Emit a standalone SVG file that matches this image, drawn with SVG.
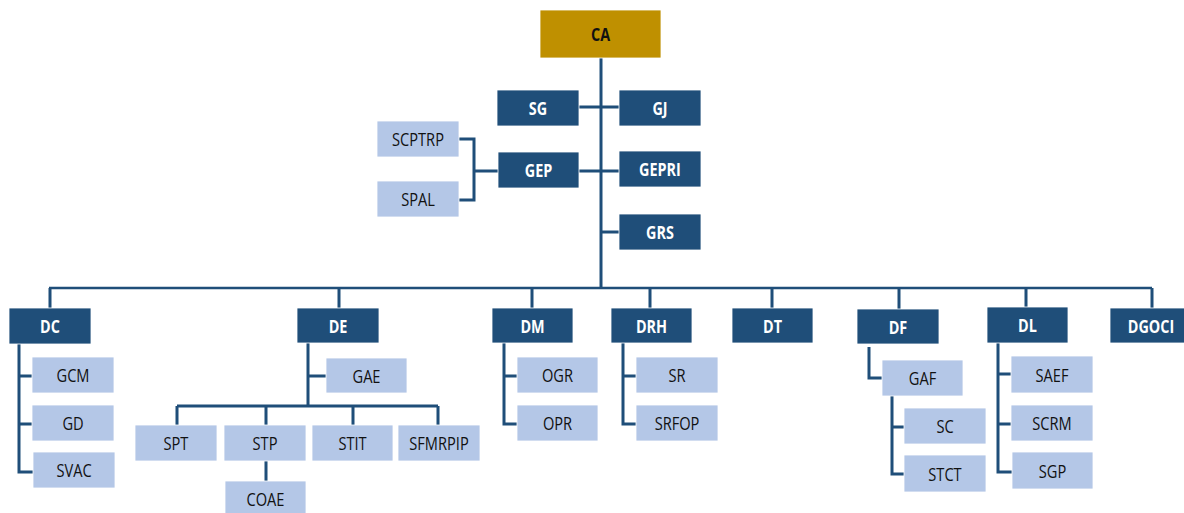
<svg xmlns="http://www.w3.org/2000/svg" width="1184" height="513" viewBox="0 0 1184 513">
<style>
.bg{fill:#ffffff}
.d rect{fill:#1F4E79;stroke:#ffffff;stroke-width:0.8}
.l rect{fill:#B4C7E7;stroke:#ffffff;stroke-width:0.8}
.g rect{fill:#BF9000;stroke:#ffffff;stroke-width:0.8}
.d text{fill:#ffffff;font-family:"Open Sans","Liberation Sans",sans-serif;font-weight:bold;font-size:18px;text-anchor:middle}
.g text{fill:#111111;font-family:"Open Sans","Liberation Sans",sans-serif;font-weight:bold;font-size:18px;text-anchor:middle}
.l text{fill:#111111;font-family:"Open Sans","Liberation Sans",sans-serif;font-size:19px;text-anchor:middle}
#connectors path{fill:none;stroke:#1F4E79;stroke-width:3}
</style>
<rect class="bg" x="0" y="0" width="1184" height="513"/>
<g id="connectors">
<path d="M601,58 V288"/>
<path d="M579,107 H619"/>
<path d="M579,171 H619"/>
<path d="M601,232 H619"/>
<path d="M459,139 H474 V200 H459 M474,171 H498"/>
<path d="M49,288 H1152" style="stroke-width:2.5"/>
<path d="M50,288 V308 M339,288 V308 M532,288 V308 M650,288 V308 M772,288 V308 M899,288 V309 M1026,288 V307 M1152,288 V308"/>
<path d="M19,344 V472 H33 M19,376 H32 M19,424 H32"/>
<path d="M308,343 V406 M308,376 H326 M177,406 H438 M177,406 V425 M266,406 V425 M353,406 V425 M438,406 V425 M266,461 V481"/>
<path d="M504,343 V424 H517 M504,376 H517"/>
<path d="M623,343 V424 H636 M623,376 H636"/>
<path d="M869,347 V378 H882"/>
<path d="M892,396 V474 H904 M892,427 H904"/>
<path d="M998,343 V472 H1012 M998,374 H1011 M998,424 H1011"/>
</g>
<g id="CA" class="g"><rect x="540" y="10" width="121" height="48"/><text transform="translate(600.5,40.5) scale(0.8,1)">CA</text></g>
<g id="SG" class="d"><rect x="497" y="90" width="82" height="36"/><text transform="translate(538,114.5) scale(0.8,1)">SG</text></g>
<g id="GJ" class="d"><rect x="619" y="90" width="82" height="36"/><text transform="translate(660,114.5) scale(0.8,1)">GJ</text></g>
<g id="SCPTRP" class="l"><rect x="377" y="121" width="82" height="36"/><text transform="translate(418,146) scale(0.77,1)">SCPTRP</text></g>
<g id="SPAL" class="l"><rect x="377" y="181" width="82" height="36"/><text transform="translate(418,206) scale(0.77,1)">SPAL</text></g>
<g id="GEP" class="d"><rect x="498" y="152" width="81" height="36"/><text transform="translate(538.5,176.5) scale(0.8,1)">GEP</text></g>
<g id="GEPRI" class="d"><rect x="619" y="151" width="82" height="36"/><text transform="translate(660,175.5) scale(0.8,1)">GEPRI</text></g>
<g id="GRS" class="d"><rect x="619" y="214" width="82" height="36"/><text transform="translate(660,238.5) scale(0.8,1)">GRS</text></g>
<g id="DC" class="d"><rect x="9" y="308" width="82" height="36"/><text transform="translate(50,333) scale(0.8,1)">DC</text></g>
<g id="GCM" class="l"><rect x="32" y="357" width="82" height="36"/><text transform="translate(73,382) scale(0.77,1)">GCM</text></g>
<g id="GD" class="l"><rect x="32" y="405" width="82" height="36"/><text transform="translate(73,430) scale(0.77,1)">GD</text></g>
<g id="SVAC" class="l"><rect x="33" y="452" width="82" height="36"/><text transform="translate(74,477) scale(0.77,1)">SVAC</text></g>
<g id="DE" class="d"><rect x="297" y="308" width="82" height="35"/><text transform="translate(338,332.5) scale(0.8,1)">DE</text></g>
<g id="GAE" class="l"><rect x="326" y="358" width="81" height="35"/><text transform="translate(366.5,382.5) scale(0.77,1)">GAE</text></g>
<g id="SPT" class="l"><rect x="135" y="425" width="82" height="36"/><text transform="translate(176,450) scale(0.77,1)">SPT</text></g>
<g id="STP" class="l"><rect x="224" y="425" width="82" height="36"/><text transform="translate(265,450) scale(0.77,1)">STP</text></g>
<g id="STIT" class="l"><rect x="312" y="425" width="81" height="36"/><text transform="translate(352.5,450) scale(0.77,1)">STIT</text></g>
<g id="SFMRPIP" class="l"><rect x="398" y="425" width="82" height="36"/><text transform="translate(439,450) scale(0.77,1)">SFMRPIP</text></g>
<g id="COAE" class="l"><rect x="225" y="481" width="81" height="36"/><text transform="translate(265.5,506) scale(0.77,1)">COAE</text></g>
<g id="DM" class="d"><rect x="492" y="308" width="81" height="35"/><text transform="translate(532.5,332.5) scale(0.8,1)">DM</text></g>
<g id="OGR" class="l"><rect x="517" y="357" width="81" height="36"/><text transform="translate(557.5,382) scale(0.77,1)">OGR</text></g>
<g id="OPR" class="l"><rect x="517" y="405" width="81" height="36"/><text transform="translate(557.5,430) scale(0.77,1)">OPR</text></g>
<g id="DRH" class="d"><rect x="611" y="308" width="81" height="35"/><text transform="translate(651.5,332.5) scale(0.8,1)">DRH</text></g>
<g id="SR" class="l"><rect x="636" y="357" width="82" height="36"/><text transform="translate(677,382) scale(0.77,1)">SR</text></g>
<g id="SRFOP" class="l"><rect x="636" y="405" width="82" height="36"/><text transform="translate(677,430) scale(0.77,1)">SRFOP</text></g>
<g id="DT" class="d"><rect x="732" y="308" width="81" height="35"/><text transform="translate(772.5,332.5) scale(0.8,1)">DT</text></g>
<g id="DF" class="d"><rect x="857" y="309" width="82" height="35"/><text transform="translate(898,333.5) scale(0.8,1)">DF</text></g>
<g id="GAF" class="l"><rect x="882" y="360" width="81" height="36"/><text transform="translate(922.5,385) scale(0.77,1)">GAF</text></g>
<g id="SC" class="l"><rect x="904" y="408" width="82" height="36"/><text transform="translate(945,433) scale(0.77,1)">SC</text></g>
<g id="STCT" class="l"><rect x="904" y="455" width="82" height="37"/><text transform="translate(945,480.5) scale(0.77,1)">STCT</text></g>
<g id="DL" class="d"><rect x="987" y="307" width="81" height="36"/><text transform="translate(1027.5,332) scale(0.8,1)">DL</text></g>
<g id="SAEF" class="l"><rect x="1011" y="356" width="82" height="37"/><text transform="translate(1052,381.5) scale(0.77,1)">SAEF</text></g>
<g id="SCRM" class="l"><rect x="1011" y="405" width="82" height="36"/><text transform="translate(1052,430) scale(0.77,1)">SCRM</text></g>
<g id="SGP" class="l"><rect x="1012" y="452" width="81" height="37"/><text transform="translate(1052.5,477.5) scale(0.77,1)">SGP</text></g>
<g id="DGOCI" class="d"><rect x="1110" y="308" width="82" height="35"/><text transform="translate(1151,332.5) scale(0.8,1)">DGOCI</text></g>
</svg>
